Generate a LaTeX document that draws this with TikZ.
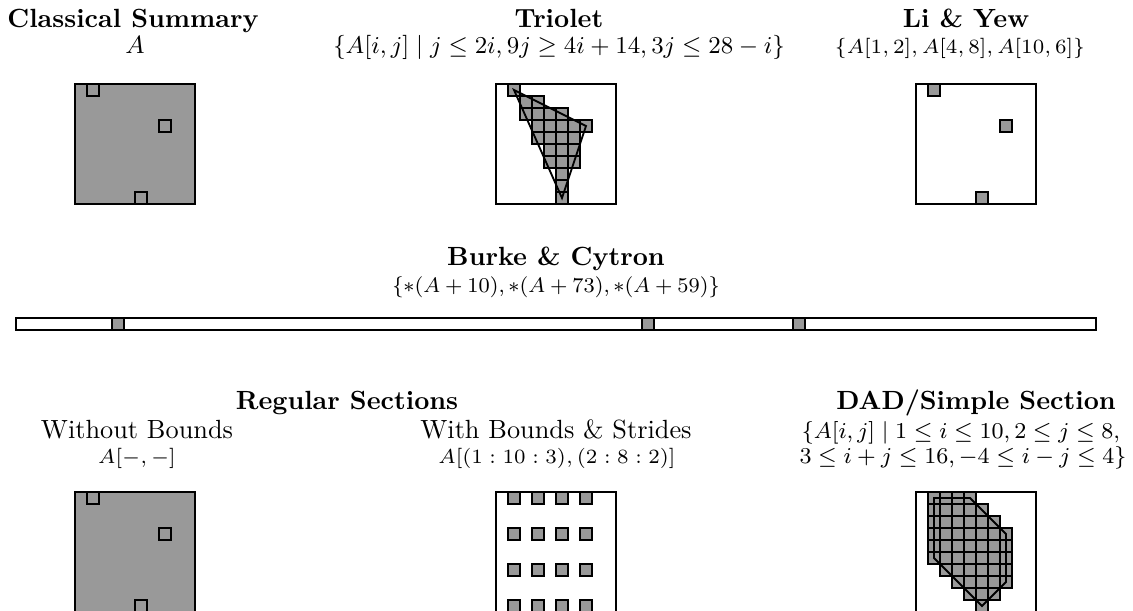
\documentclass[tikz,border=0pt]{standalone}
\usepackage{fix-cm}
\definecolor{cellgray}{HTML}{999999}
\newcommand{\msz}[1]{\fontsize{#1}{#1}\selectfont}
\begin{document}
\begin{tikzpicture}[x=0.38pt,y=-0.38pt,
  frame/.style={draw=black,line width=0.7pt},
  gcell/.style={draw=black,fill=cellgray,line width=0.7pt},
  ocell/.style={draw=black,line width=0.7pt},
  outline/.style={draw=black,line width=0.7pt,line join=miter},
  ttl/.style={anchor=base,inner sep=0pt,font=\bfseries},
  txt/.style={anchor=base,inner sep=0pt},
  mth/.style={anchor=base,inner sep=0pt}]
\useasboundingbox (0,0) rectangle (1133,610);
\clip (0,0) rectangle (1133,610);

% ---------- texts ----------
\node[ttl] (tcs) at (133,27) {Classical Summary};
\node[mth,font=\msz{9.5}] (mcs) at (135,53) {$A$};
\node[ttl] (ttr) at (559,27) {Triolet};
\node[mth,font=\msz{9.2}] (mtr) at (559,53) {$\{A[i,j]\mid j\leq 2i,9j\geq 4i+14,3j\leq 28-i\}$};
\node[ttl] (tly) at (966,27) {Li \& Yew};
\node[mth,font=\msz{7.7}] (mly) at (960,53) {$\{A[1,2],A[4,8],A[10,6]\}$};
\node[ttl] (tbc) at (556,265) {Burke \& Cytron};
\node[mth,font=\msz{8}] (mbc) at (556,292) {$\{*(A+10),*(A+73),*(A+59)\}$};
\node[ttl] (trs) at (347,409) {Regular Sections};
\node[txt] (twb) at (137,438) {Without Bounds};
\node[mth,font=\msz{7.7}] (mwb) at (137,463) {$A[-,-]$};
\node[txt] (tws) at (556,438) {With Bounds \& Strides};
\node[mth,font=\msz{7.7}] (mws) at (557,463) {$A[(1:10:3),(2:8:2)]$};
\node[ttl] (tdad) at (976,409) {DAD/Simple Section};
\node[mth,font=\msz{8.6}] (mdad1) at (961,438) {$\{A[i,j]\mid 1\leq i\leq 10,2\leq j\leq 8,$};
\node[mth,font=\msz{8.6}] (mdad2) at (963,463) {$3\leq i+j\leq 16,-4\leq i-j\leq 4\}$};

% ---------- Classical Summary ----------
\begin{scope}[shift={(75,84)}]
  \path[gcell] (0,0) rectangle (120,120);
  \foreach \i/\j in {1/2,4/8,10/6}
    \path[ocell] ({12*(\j-1)},{12*(\i-1)}) rectangle ++(12,12);
\end{scope}

% ---------- Triolet ----------
\begin{scope}[shift={(496,84)}]
  \path[frame] (0,0) rectangle (120,120);
  \foreach \i/\a/\b in {1/2/2,2/3/4,3/3/6,4/4/8,5/4/7,6/5/7,7/5/7,8/6/6,9/6/6,10/6/6}
    \foreach \j in {\a,...,\b}
      \path[gcell] ({12*(\j-1)},{12*(\i-1)}) rectangle ++(12,12);
  \path[outline] (18,6) -- (90,42) -- (66,114) -- cycle;
\end{scope}

% ---------- Li & Yew ----------
\begin{scope}[shift={(916,84)}]
  \path[frame] (0,0) rectangle (120,120);
  \foreach \i/\j in {1/2,4/8,10/6}
    \path[gcell] ({12*(\j-1)},{12*(\i-1)}) rectangle ++(12,12);
\end{scope}

% ---------- Burke & Cytron ----------
\path[frame] (15.7,317.7) rectangle (1095.7,329.7);
\foreach \x in {111.7,641.7,793.3}
  \path[gcell] (\x,317.7) rectangle ++(12,12);

% ---------- Regular Sections: without bounds ----------
\begin{scope}[shift={(75,492)}]
  \path[gcell] (0,0) rectangle (120,120);
  \foreach \i/\j in {1/2,4/8,10/6}
    \path[ocell] ({12*(\j-1)},{12*(\i-1)}) rectangle ++(12,12);
\end{scope}

% ---------- Regular Sections: bounds & strides ----------
\begin{scope}[shift={(496,492)}]
  \path[frame] (0,0) rectangle (120,120);
  \foreach \i in {1,4,7,10}
    \foreach \j in {2,4,6,8}
      \path[gcell] ({12*(\j-1)},{12*(\i-1)}) rectangle ++(12,12);
\end{scope}

% ---------- DAD / Simple Section ----------
\begin{scope}[shift={(916,492)}]
  \path[frame] (0,0) rectangle (120,120);
  \foreach \i/\a/\b in {1/2/5,2/2/6,3/2/7,4/2/8,5/2/8,6/2/8,7/3/8,8/4/8,9/5/7,10/6/6}
    \foreach \j in {\a,...,\b}
      \path[gcell] ({12*(\j-1)},{12*(\i-1)}) rectangle ++(12,12);
  \path[outline] (18,6) -- (54,6) -- (90,42) -- (90,90) -- (66,114) -- (18,66) -- cycle;
\end{scope}
\end{tikzpicture}
\end{document}
